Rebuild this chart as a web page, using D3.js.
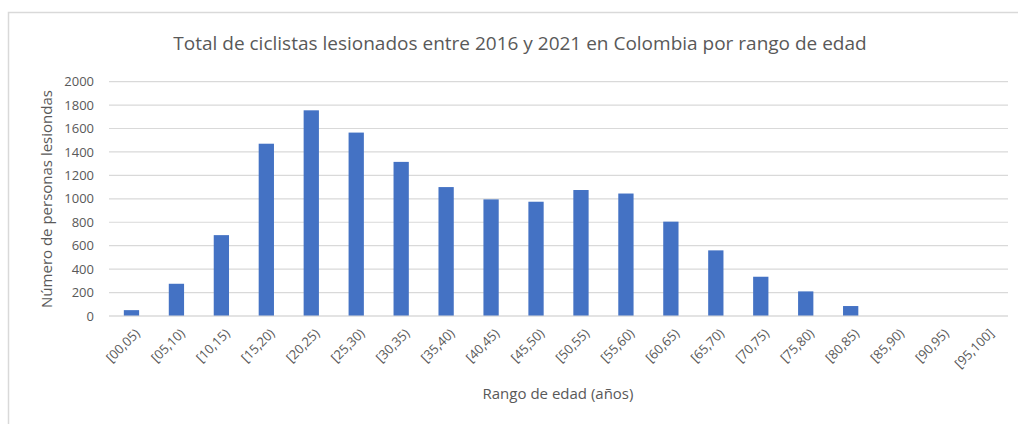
<html>
  <head>
    <title>Ciclistas lesionados</title>
    <meta charset="utf-8" />
    <script src="https://cdnjs.cloudflare.com/ajax/libs/d3/7.6.1/d3.min.js"></script>
    <style>
      body { margin: 0; background: #fff; }
      svg { display: block; font-family: "Open Sans", sans-serif; }
    </style>
  </head>
  <body>
    <svg width="1018" height="424"></svg>
  </body>

  <script>
    let ranges = ["[00,05)", "[05,10)", "[10,15)", "[15,20)", "[20,25)", "[25,30)", "[30,35)",
      "[35,40)", "[40,45)", "[45,50)", "[50,55)", "[55,60)", "[60,65)", "[65,70)", "[70,75)",
      "[75,80)", "[80,85)", "[85,90)", "[90,95)", "[95,100]"];
    let injured = [50, 275, 690, 1470, 1755, 1565, 1315, 1100, 995, 975,
      1075, 1045, 805, 560, 335, 210, 85, 0, 0, 0];
    let yTicks = [0, 200, 400, 600, 800, 1000, 1200, 1400, 1600, 1800, 2000];

    let svg = d3.select("svg");
    let grey = "#595959";

    // chart frame
    svg.append("rect")
      .attr("x", 8.5).attr("y", 12.5)
      .attr("width", 1030).attr("height", 430)
      .style("fill", "none").style("stroke", "#d9d9d9").style("stroke-width", 1.5);

    let xScale = d3.scaleBand().domain(ranges).range([109, 1008]).paddingInner(0.66).paddingOuter(0.33);
    let yScale = d3.scaleLinear().domain([0, 2000]).range([316, 81.6]);

    // gridlines
    svg.append("g")
      .selectAll("line")
      .data(yTicks)
      .enter()
      .append("line")
      .attr("x1", 109).attr("x2", 1008)
      .attr("y1", (d) => yScale(d)).attr("y2", (d) => yScale(d))
      .style("stroke", "#d9d9d9").style("stroke-width", 1.2);

    let yAxis = d3.axisLeft(yScale).tickValues(yTicks).tickFormat(d3.format("d")).tickSize(0).tickPadding(15);
    let yG = svg.append("g").attr("transform", "translate(109,0)").call(yAxis);
    yG.select(".domain").remove();
    yG.selectAll("text").style("fill", grey).style("font-size", "13px").style("font-family", "Open Sans");

    svg.append("g")
      .selectAll("rect")
      .data(injured)
      .enter()
      .append("rect")
      .attr("x", (d, i) => xScale(ranges[i]))
      .attr("width", xScale.bandwidth())
      .attr("y", (d) => yScale(d))
      .attr("height", (d) => yScale(0) - yScale(d))
      .style("fill", "#4472c4");

    let xAxis = d3.axisBottom(xScale).tickSize(0).tickPadding(0);
    let xG = svg.append("g").attr("transform", "translate(0,316)").call(xAxis);
    xG.select(".domain").attr("d", "M109,0H1008").style("stroke", "#d9d9d9").style("stroke-width", 1.2);
    xG.selectAll("text")
      .attr("text-anchor", "end")
      .attr("dy", "0.35em")
      .attr("transform", "translate(6,15) rotate(-45)")
      .style("fill", grey).style("font-size", "13px").style("font-family", "Open Sans");

    svg.append("text")
      .attr("x", 520).attr("y", 50)
      .attr("text-anchor", "middle")
      .style("fill", grey).style("font-size", "19px")
      .text("Total de ciclistas lesionados entre 2016 y 2021 en Colombia por rango de edad");

    svg.append("text")
      .attr("x", 558).attr("y", 399)
      .attr("text-anchor", "middle")
      .style("fill", grey).style("font-size", "15px")
      .text("Rango de edad (años)");

    svg.append("text")
      .attr("transform", "translate(52,199) rotate(-90)")
      .attr("text-anchor", "middle")
      .style("fill", grey).style("font-size", "15px")
      .text("Número de personas lesiondas");
  </script>
</html>
